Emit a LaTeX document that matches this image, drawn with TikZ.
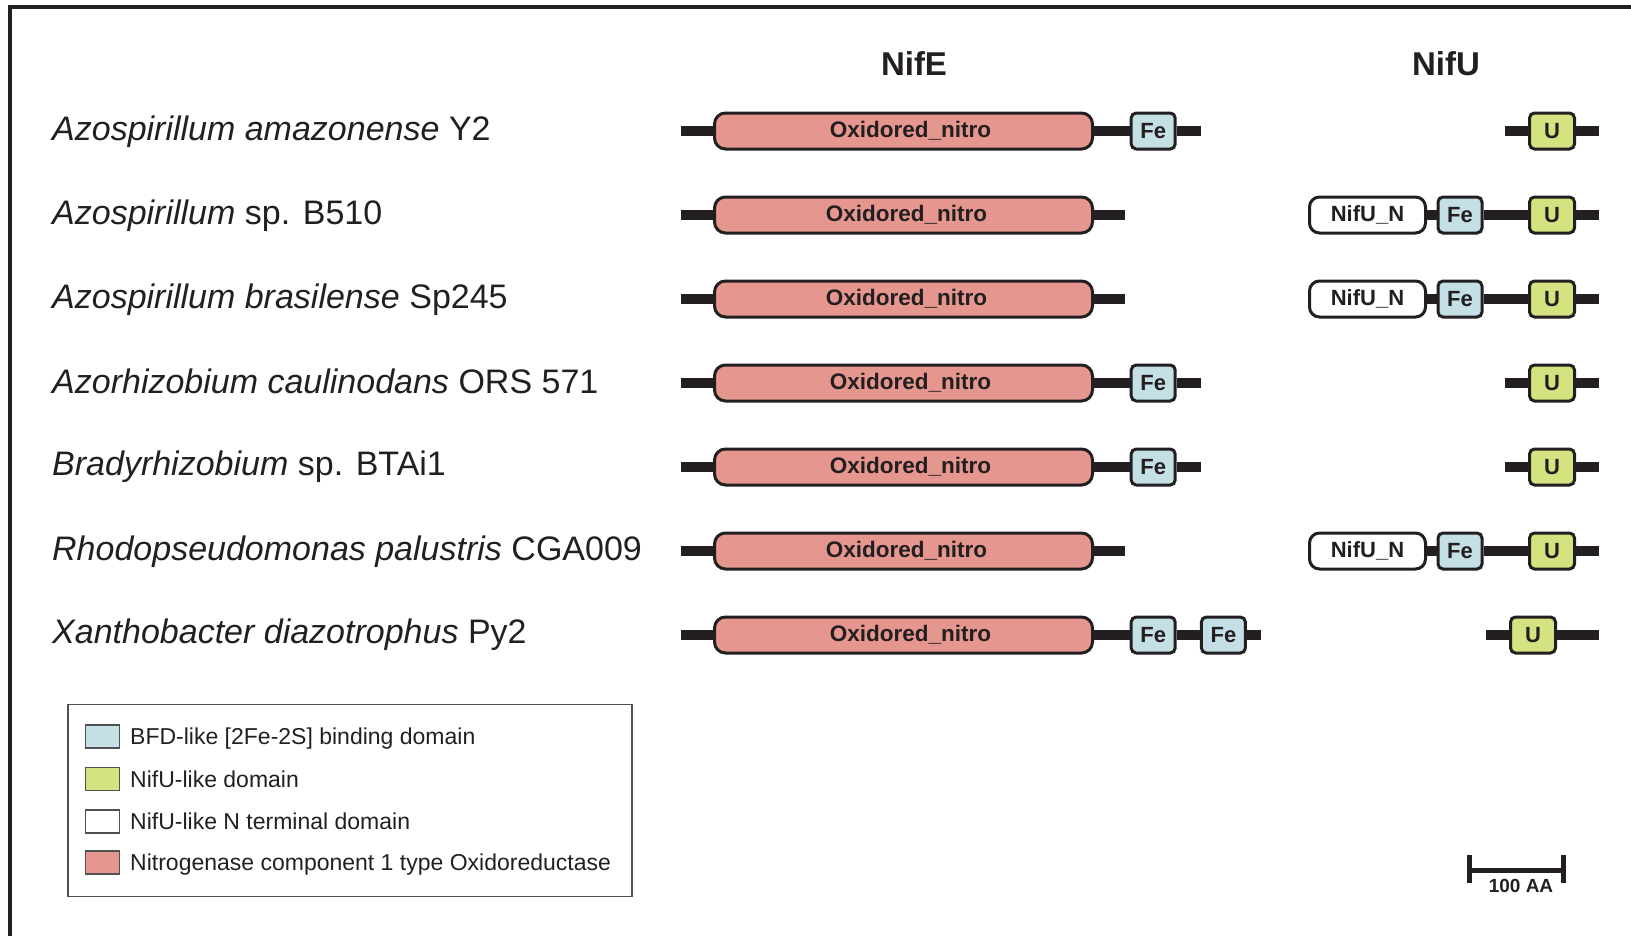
\documentclass[tikz,border=0pt]{standalone}
\usepackage{fontspec}
\setmainfont{Liberation Sans}
\definecolor{dk}{RGB}{35,31,32}
\definecolor{oxfill}{RGB}{229,151,143}
\definecolor{fefill}{RGB}{196,223,230}
\definecolor{ufill}{RGB}{213,226,128}
\definecolor{legdraw}{RGB}{80,80,80}
\begin{document}
\begin{tikzpicture}[x=1pt,y=-1pt,
  dom/.style={draw=dk, line width=3pt, minimum height=36pt, inner sep=0pt, text=dk,
    font=\fontsize{22}{24}\selectfont\bfseries},
  oxbox/.style={dom, fill=oxfill, minimum width=378pt, rounded corners=11pt,
    font=\fontsize{22.5}{24}\selectfont\bfseries},
  febox/.style={dom, fill=fefill, minimum width=44pt, rounded corners=5pt},
  ubox/.style={dom, fill=ufill, minimum width=45pt, rounded corners=5pt},
  nnbox/.style={dom, fill=white, minimum width=116pt, rounded corners=10pt},
  bb/.style={draw=dk, line width=10pt},
  species/.style={anchor=base west, inner sep=0pt, text=dk, font=\fontsize{34}{40}\selectfont},
  header/.style={anchor=base, inner sep=0pt, text=dk, font=\fontsize{33}{38}\selectfont\bfseries},
  swatch/.style={draw=legdraw, line width=1.5pt, minimum width=34pt, minimum height=23pt, inner sep=0pt},
  legtext/.style={anchor=base west, inner sep=0pt, text=dk, font=\fontsize{23}{26}\selectfont},
]
\useasboundingbox (0,0) rectangle (1631,935);
% frame
\coordinate (fbl) at (10,940);
\coordinate (ftl) at (10,7);
\coordinate (ftr) at (1640,7);
\draw[draw=dk, line width=3.5pt] (fbl) -- (ftl) -- (ftr);

% headers
\node[header] (hE) at (914,75) {NifE};
\node[header] (hU) at (1446,75) {NifU};

% species labels
\node[species] (s1) at (52,140) {\textit{Azospirillum amazonense} Y2};
\node[species] (s2) at (52,224) {\textit{Azospirillum} sp. B510};
\node[species] (s3) at (52,308) {\textit{Azospirillum brasilense} Sp245};
\node[species] (s4) at (52,393) {\textit{Azorhizobium caulinodans} ORS 571};
\node[species] (s5) at (52,475) {\textit{Bradyrhizobium} sp. BTAi1};
\node[species] (s6) at (52,560) {\textit{Rhodopseudomonas palustris} CGA009};
\node[species] (s7) at (52,643) {\textit{Xanthobacter diazotrophus} Py2};

% ---- Row 1
\coordinate (a1) at (681,131);
\coordinate (b1) at (1201,131);
\coordinate (c1) at (1505,131);
\coordinate (d1) at (1599,131);
\node[oxbox] (ox1) at (903.5,131) {\hspace*{14pt}Oxidored\_nitro};
\node[febox] (fe1) at (1153.2,131) {Fe};
\node[ubox] (u1) at (1552,131) {U};
\draw[bb] (a1) -- (ox1.west) (ox1.east) -- (fe1.west) (fe1.east) -- (b1);
\draw[bb] (c1) -- (u1.west) (u1.east) -- (d1);

% ---- Row 2
\coordinate (a2) at (681,215);
\coordinate (b2) at (1124.5,215);
\coordinate (d2) at (1599,215);
\node[oxbox] (ox2) at (903.5,215) {\hspace*{6pt}Oxidored\_nitro};
\node[nnbox] (nn2) at (1367.5,215) {NifU\_N};
\node[febox] (fu2) at (1460,215) {Fe};
\node[ubox] (u2) at (1552,215) {U};
\draw[bb] (a2) -- (ox2.west) (ox2.east) -- (b2);
\draw[bb] (nn2.east) -- (fu2.west) (fu2.east) -- (u2.west) (u2.east) -- (d2);

% ---- Row 3
\coordinate (a3) at (681,299);
\coordinate (b3) at (1124.5,299);
\coordinate (d3) at (1599,299);
\node[oxbox] (ox3) at (903.5,299) {\hspace*{6pt}Oxidored\_nitro};
\node[nnbox] (nn3) at (1367.5,299) {NifU\_N};
\node[febox] (fu3) at (1460,299) {Fe};
\node[ubox] (u3) at (1552,299) {U};
\draw[bb] (a3) -- (ox3.west) (ox3.east) -- (b3);
\draw[bb] (nn3.east) -- (fu3.west) (fu3.east) -- (u3.west) (u3.east) -- (d3);

% ---- Row 4
\coordinate (a4) at (681,383);
\coordinate (b4) at (1201,383);
\coordinate (c4) at (1505,383);
\coordinate (d4) at (1599,383);
\node[oxbox] (ox4) at (903.5,383) {\hspace*{14pt}Oxidored\_nitro};
\node[febox] (fe4) at (1153.2,383) {Fe};
\node[ubox] (u4) at (1552,383) {U};
\draw[bb] (a4) -- (ox4.west) (ox4.east) -- (fe4.west) (fe4.east) -- (b4);
\draw[bb] (c4) -- (u4.west) (u4.east) -- (d4);

% ---- Row 5
\coordinate (a5) at (681,467);
\coordinate (b5) at (1201,467);
\coordinate (c5) at (1505,467);
\coordinate (d5) at (1599,467);
\node[oxbox] (ox5) at (903.5,467) {\hspace*{14pt}Oxidored\_nitro};
\node[febox] (fe5) at (1153.2,467) {Fe};
\node[ubox] (u5) at (1552,467) {U};
\draw[bb] (a5) -- (ox5.west) (ox5.east) -- (fe5.west) (fe5.east) -- (b5);
\draw[bb] (c5) -- (u5.west) (u5.east) -- (d5);

% ---- Row 6
\coordinate (a6) at (681,551);
\coordinate (b6) at (1124.5,551);
\coordinate (d6) at (1599,551);
\node[oxbox] (ox6) at (903.5,551) {\hspace*{6pt}Oxidored\_nitro};
\node[nnbox] (nn6) at (1367.5,551) {NifU\_N};
\node[febox] (fu6) at (1460,551) {Fe};
\node[ubox] (u6) at (1552,551) {U};
\draw[bb] (a6) -- (ox6.west) (ox6.east) -- (b6);
\draw[bb] (nn6.east) -- (fu6.west) (fu6.east) -- (u6.west) (u6.east) -- (d6);

% ---- Row 7
\coordinate (a7) at (681,635);
\coordinate (b7) at (1261,635);
\coordinate (c7) at (1486,635);
\coordinate (d7) at (1599,635);
\node[oxbox] (ox7) at (903.5,635) {\hspace*{14pt}Oxidored\_nitro};
\node[febox] (fe7) at (1153.2,635) {Fe};
\node[febox] (ff7) at (1223.4,635) {Fe};
\node[ubox] (u7) at (1533,635) {U};
\draw[bb] (a7) -- (ox7.west) (ox7.east) -- (fe7.west) (fe7.east) -- (ff7.west) (ff7.east) -- (b7);
\draw[bb] (c7) -- (u7.west) (u7.east) -- (d7);

% ---- Legend
\node[draw=legdraw, line width=1.5pt, minimum width=564pt, minimum height=192pt, inner sep=0pt, anchor=north west] (leg) at (67,703.5) {};
\node[swatch, fill=fefill] (sw1) at (102.5,736.5) {};
\node[swatch, fill=ufill] (sw2) at (102.5,779) {};
\node[swatch, fill=white] (sw3) at (102.5,821.5) {};
\node[swatch, fill=oxfill] (sw4) at (102.5,862.5) {};
\node[legtext] (lt1) at (130,744.5) {BFD-like [2Fe-2S] binding domain};
\node[legtext] (lt2) at (130,787) {NifU-like domain};
\node[legtext] (lt3) at (130,829.5) {NifU-like N terminal domain};
\node[legtext] (lt4) at (130,870.5) {Nitrogenase component 1 type Oxidoreductase};

% ---- Scale bar
\coordinate (sbL) at (1469,870);
\coordinate (sbR) at (1563.5,870);
\coordinate (sbLt) at (1469,855);
\coordinate (sbLb) at (1469,883);
\coordinate (sbRt) at (1563.5,855);
\coordinate (sbRb) at (1563.5,883);
\draw[draw=dk, line width=5pt] (sbL) -- (sbR);
\draw[draw=dk, line width=5pt] (sbLt) -- (sbLb) (sbRt) -- (sbRb);
\node[anchor=base, inner sep=0pt, text=dk, font=\fontsize{19}{22}\selectfont\bfseries] (sbT) at (1521,892) {100 AA};
\end{tikzpicture}
\end{document}
